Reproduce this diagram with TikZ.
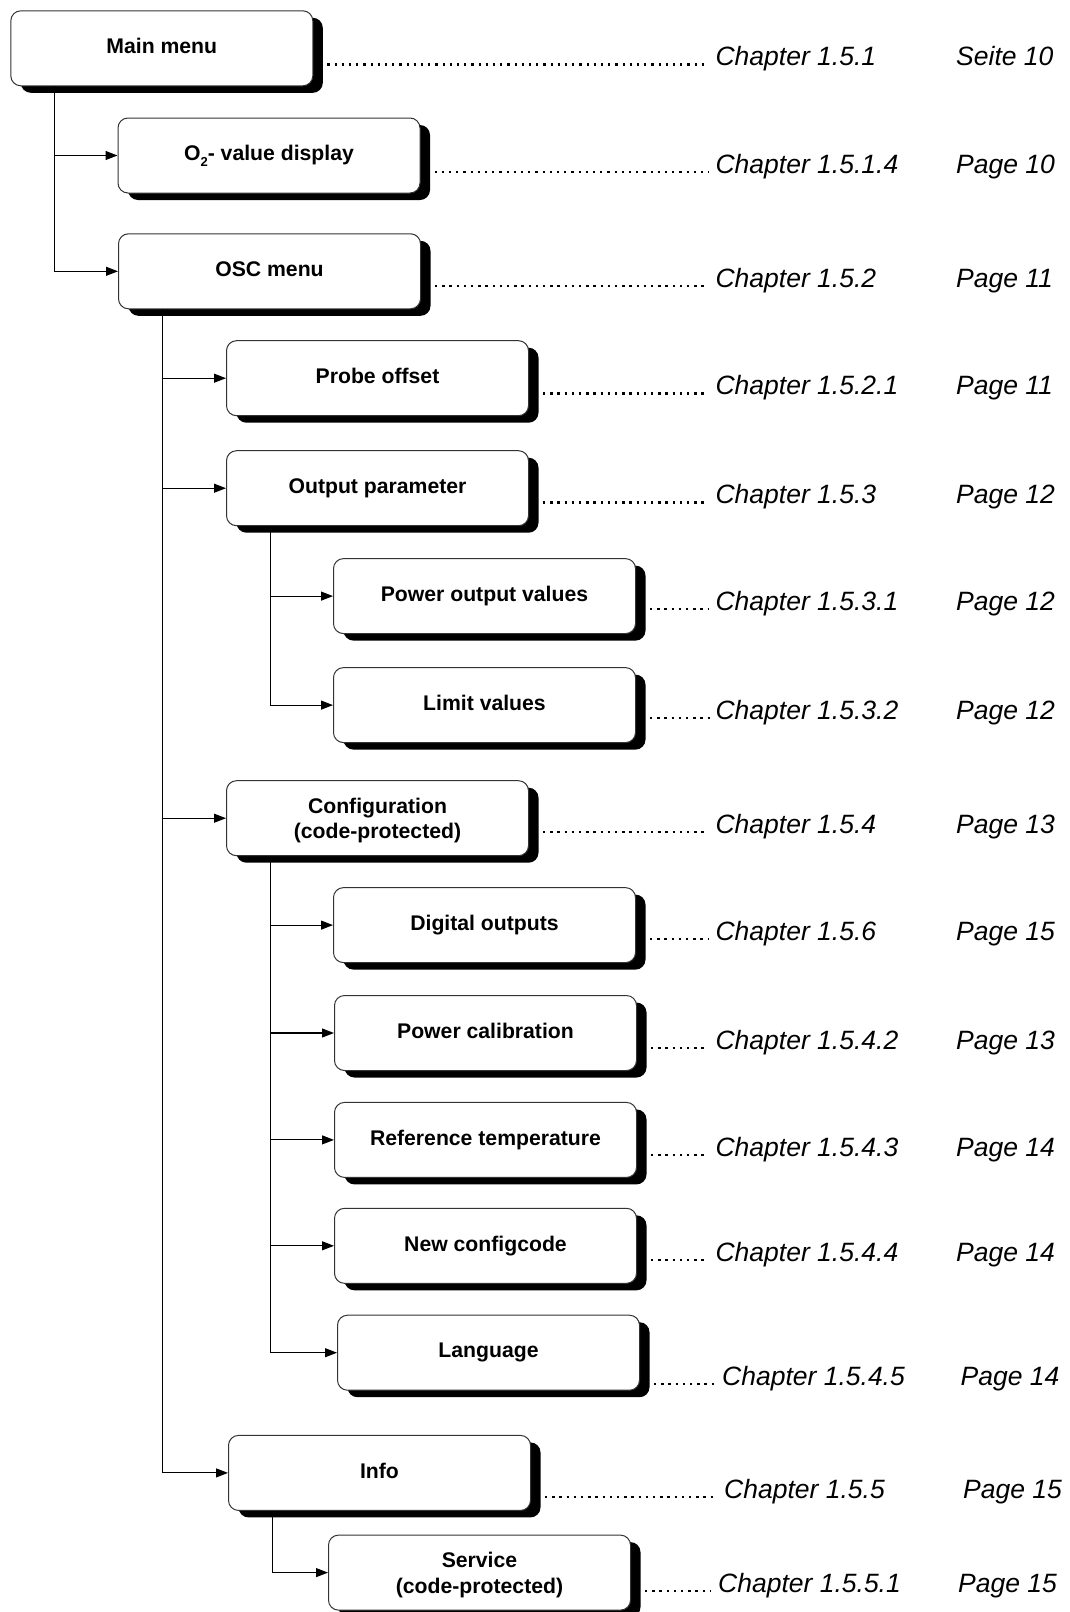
\documentclass[tikz,border=0pt]{standalone}
\usepackage{fontspec}
\setmainfont{Liberation Sans}
\usetikzlibrary{shadows,arrows.meta}
\begin{document}
\begin{tikzpicture}[x=1pt,y=-1pt,
  box/.style={draw=black!80, line width=1pt, fill=white, rounded corners=10pt,
    minimum width=302pt, minimum height=75pt, anchor=north west, inner sep=0pt,
    font=\fontsize{21.2}{25.5}\selectfont\bfseries, align=center,
    drop shadow={shadow xshift=10pt, shadow yshift=-7pt, fill=black, opacity=1}},
  one/.style={text height=15.5pt, text depth=5pt},
  chap/.style={anchor=base west, inner sep=0pt, font=\fontsize{26.5}{30}\selectfont\itshape},
  link/.style={line width=1.1pt, -{Triangle[length=12pt,width=9pt]}},
  leader/.style={line width=2.3pt, dash pattern=on 2.3pt off 4.9pt}
]
\useasboundingbox (0,0) rectangle (1070,1612);

% boxes
\node[box,one] (main)  at (10.3,10.3)   {Main menu};
\node[box,one] (o2)    at (117.5,117.5) {O\raisebox{-6pt}{\fontsize{13}{13}\selectfont 2}- value display};
\node[box,one] (osc)   at (118,233.3)   {OSC menu};
\node[box,one] (probe) at (226,340.2)   {Probe offset};
\node[box,one] (outp)  at (226,450.2)   {Output parameter};
\node[box,one] (pov)   at (333,558.1)   {Power output values};
\node[box,one] (lim)   at (333,667.1)   {Limit values};
\node[box]     (conf)  at (226,780.2)   {\rule{0pt}{20pt}Configuration\\(code-protected)};
\node[box,one] (dig)   at (333,887.1)   {Digital outputs};
\node[box,one] (pcal)  at (334,995)     {Power calibration};
\node[box,one] (rtemp) at (334,1101.9)  {Reference temperature};
\node[box,one] (ncode) at (334,1207.8)  {New configcode};
\node[box,one] (lang)  at (337,1314.7)  {Language};
\node[box,one] (info)  at (228,1434.9)  {Info};
\node[box]     (serv)  at (328,1534.6)  {\rule{0pt}{20pt}Service\\(code-protected)};

% chapter and page references
\node[chap] (c1)  at (715.4,65.8)   {Chapter 1.5.1};
\node[chap] (p1)  at (956,65.8)     {Seite 10};
\node[chap] (c2)  at (715.4,173.5)  {Chapter 1.5.1.4};
\node[chap] (p2)  at (956,173.5)    {Page 10};
\node[chap] (c3)  at (715.4,287)    {Chapter 1.5.2};
\node[chap] (p3)  at (956,287)      {Page 11};
\node[chap] (c4)  at (715.4,394.7)  {Chapter 1.5.2.1};
\node[chap] (p4)  at (956,394.7)    {Page 11};
\node[chap] (c5)  at (715.4,503.7)  {Chapter 1.5.3};
\node[chap] (p5)  at (956,503.7)    {Page 12};
\node[chap] (c6)  at (715.4,610.6)  {Chapter 1.5.3.1};
\node[chap] (p6)  at (956,610.6)    {Page 12};
\node[chap] (c7)  at (715.4,719.5)  {Chapter 1.5.3.2};
\node[chap] (p7)  at (956,719.5)    {Page 12};
\node[chap] (c8)  at (715.4,833.6)  {Chapter 1.5.4};
\node[chap] (p8)  at (956,833.6)    {Page 13};
\node[chap] (c9)  at (715.4,940.5)  {Chapter 1.5.6};
\node[chap] (p9)  at (956,940.5)    {Page 15};
\node[chap] (c10) at (715.4,1049.5) {Chapter 1.5.4.2};
\node[chap] (p10) at (956,1049.5)   {Page 13};
\node[chap] (c11) at (715.4,1156.4) {Chapter 1.5.4.3};
\node[chap] (p11) at (956,1156.4)   {Page 14};
\node[chap] (c12) at (715.4,1261.2) {Chapter 1.5.4.4};
\node[chap] (p12) at (956,1261.2)   {Page 14};
\node[chap] (c13) at (722,1385)     {Chapter 1.5.4.5};
\node[chap] (p13) at (960.5,1385)   {Page 14};
\node[chap] (c14) at (724,1498.5)   {Chapter 1.5.5};
\node[chap] (p14) at (963,1498.5)   {Page 15};
\node[chap] (c15) at (718,1592)     {Chapter 1.5.5.1};
\node[chap] (p15) at (958,1592)     {Page 15};

% dotted leaders
\foreach \b/\c/\g in {main/c1/7, o2/c2/7, osc/c3/7, probe/c4/7, outp/c5/7, pov/c6/7,
    lim/c7/1, conf/c8/7, dig/c9/7, pcal/c10/7, rtemp/c11/7, ncode/c12/7,
    lang/c13/7, info/c14/7, serv/c15/7}
  \draw[leader] ([xshift=14pt,yshift=1.3pt]\b.east |- \c.base west)
     -- ([xshift=-\g pt,yshift=1.3pt]\c.base west);

% tree connectors
\draw[link] ([xshift=44.5pt]main.south west) |- (o2.west);
\draw[link] ([xshift=44.5pt]main.south west) |- (osc.west);
\foreach \t in {probe,outp,conf,info}
  \draw[link] ([xshift=44.5pt]osc.south west) |- (\t.west);
\foreach \t in {pov,lim}
  \draw[link] ([xshift=44.5pt]outp.south west) |- (\t.west);
\foreach \t in {dig,pcal,rtemp,ncode,lang}
  \draw[link] ([xshift=44.5pt]conf.south west) |- (\t.west);
\draw[link] ([xshift=44.5pt]info.south west) |- (serv.west);
\end{tikzpicture}
\end{document}
